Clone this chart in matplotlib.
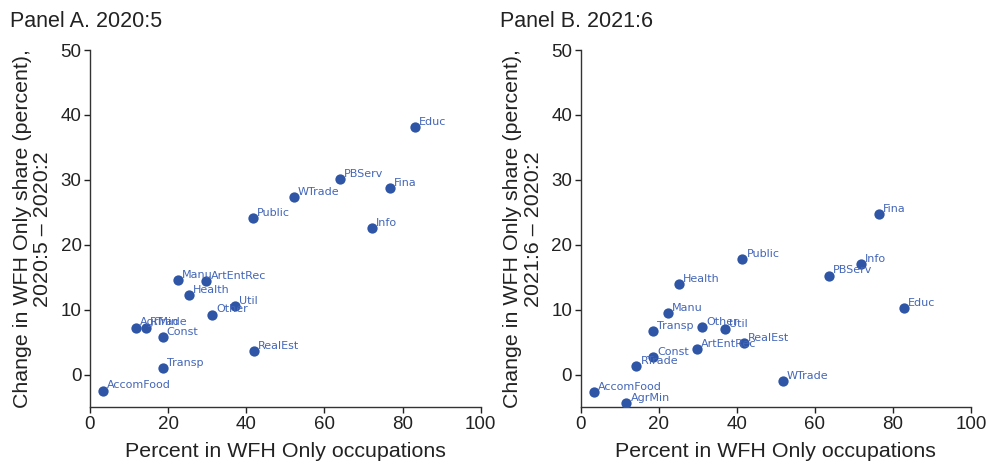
import matplotlib
matplotlib.use("Agg")
import matplotlib.pyplot as plt

# industry labels (same order for both panels)
names = ["Educ", "PBServ", "Fina", "WTrade", "Public", "Info", "Manu", "ArtEntRec",
         "Health", "Util", "Other", "AgrMin", "RTrade", "Const", "RealEst", "Transp",
         "AccomFood"]

# Panel A: 2020:5
wfh_a = [83.2, 63.9, 76.8, 52.1, 41.7, 72.2, 22.5, 29.8,
         25.3, 37.2, 31.3, 11.7, 14.3, 18.6, 42.0, 18.6, 3.3]
chg_a = [38.2, 30.1, 28.7, 27.4, 24.2, 22.6, 14.6, 14.5,
         12.3, 10.6, 9.3, 7.3, 7.3, 5.9, 3.7, 1.0, -2.4]

# Panel B: 2021:6
wfh_b = [82.8, 63.6, 76.3, 51.8, 41.4, 71.8, 22.4, 29.7,
         25.2, 37.0, 31.2, 11.7, 14.3, 18.5, 41.8, 18.6, 3.4]
chg_b = [10.3, 15.3, 24.8, -0.9, 17.9, 17.0, 9.5, 4.0,
         14.0, 7.1, 7.4, -4.3, 1.4, 2.7, 4.9, 6.7, -2.7]

dot_col = "#2f56a6"
lab_col = "#4466b8"
txt_col = "#222222"

plt.rcParams["font.family"] = ["Liberation Sans", "DejaVu Sans"]

fig = plt.figure(figsize=(9.89, 4.63), dpi=100)
ax_a = fig.add_axes([0.091, 0.12, 0.395, 0.772])
ax_b = fig.add_axes([0.587, 0.12, 0.395, 0.772])

panels = [(ax_a, wfh_a, chg_a, "Panel A. 2020:5", "2020:5 \u2013 2020:2"),
          (ax_b, wfh_b, chg_b, "Panel B. 2021:6", "2021:6 \u2013 2020:2")]

for ax, xs, ys, title, period in panels:
    ax.scatter(xs, ys, s=55, color=dot_col, zorder=3, linewidths=0)
    for n, x, y in zip(names, xs, ys):
        ax.annotate(n, (x, y), textcoords="offset points", xytext=(3, 1.5),
                    fontsize=8, color=lab_col, family="DejaVu Sans")
    ax.set_xlim(0, 100)
    ax.set_ylim(-5, 50)
    ax.set_xticks([0, 20, 40, 60, 80, 100])
    ax.set_yticks([0, 10, 20, 30, 40, 50])
    for s in ["top", "right"]:
        ax.spines[s].set_visible(False)
    for s in ["left", "bottom"]:
        ax.spines[s].set_color("#333333")
        ax.spines[s].set_linewidth(1.0)
    ax.tick_params(labelsize=13.5, colors=txt_col, length=4, width=1.0, pad=2)
    ax.set_xlabel("Percent in WFH Only occupations", fontsize=15.4, color=txt_col, labelpad=7)
    ax.set_ylabel("Change in WFH Only share (percent),\n" + period, fontsize=15.4,
                  color=txt_col, labelpad=6, linespacing=1.1)
    ax.set_title(title, fontsize=15.5, color=txt_col, loc="left", x=-0.205, y=1.04)

fig.savefig("out.png", dpi=100)
